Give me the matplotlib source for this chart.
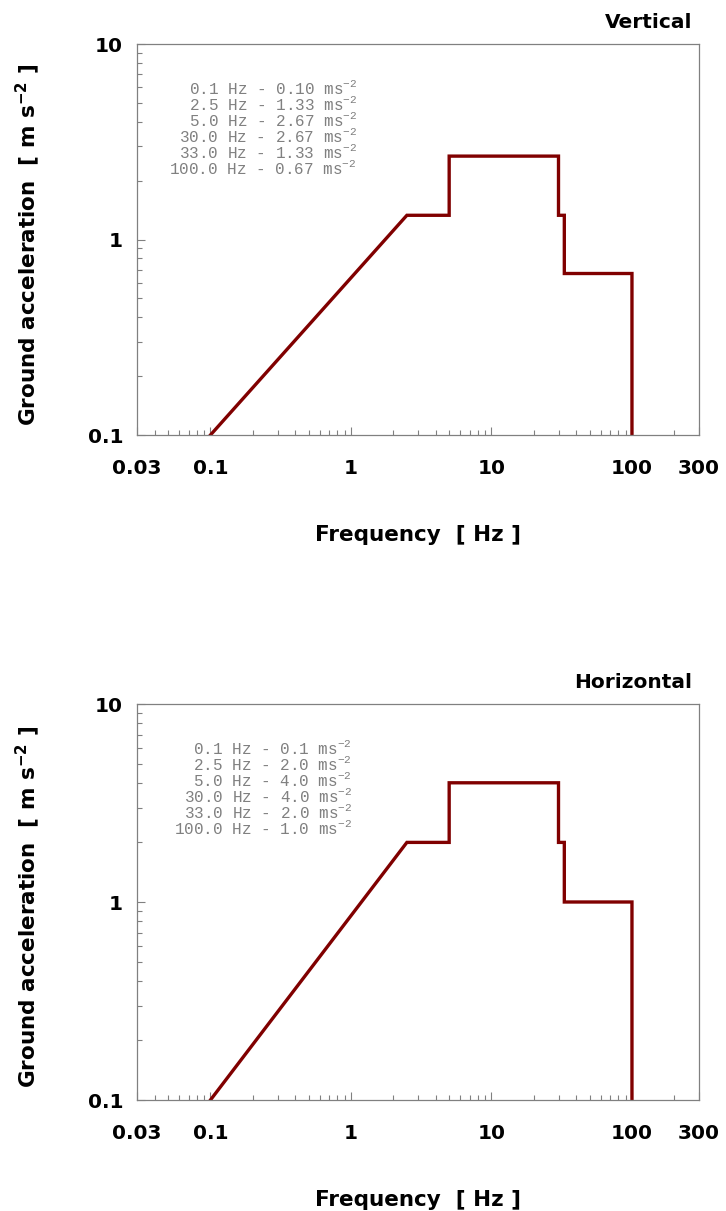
import matplotlib
matplotlib.use("Agg")
import matplotlib.pyplot as plt
from matplotlib.ticker import FixedLocator, FixedFormatter, LogLocator, NullFormatter

plt.rcParams['mathtext.default'] = 'regular'

# Data
vert_freq = [0.1, 2.5, 5.0, 5.0, 30.0, 30.0, 33.0, 33.0, 100.0, 100.0]
vert_acc = [0.1, 1.33, 1.33, 2.67, 2.67, 1.33, 1.33, 0.67, 0.67, 0.1]
horz_freq = [0.1, 2.5, 5.0, 5.0, 30.0, 30.0, 33.0, 33.0, 100.0, 100.0]
horz_acc = [0.1, 2.0, 2.0, 4.0, 4.0, 2.0, 2.0, 1.0, 1.0, 0.1]

vert_notes = ["0.1 Hz - 0.10 ms$^{-2}$", "2.5 Hz - 1.33 ms$^{-2}$", "5.0 Hz - 2.67 ms$^{-2}$",
              "30.0 Hz - 2.67 ms$^{-2}$", "33.0 Hz - 1.33 ms$^{-2}$", "100.0 Hz - 0.67 ms$^{-2}$"]
horz_notes = ["0.1 Hz - 0.1 ms$^{-2}$", "2.5 Hz - 2.0 ms$^{-2}$", "5.0 Hz - 4.0 ms$^{-2}$",
              "30.0 Hz - 4.0 ms$^{-2}$", "33.0 Hz - 2.0 ms$^{-2}$", "100.0 Hz - 1.0 ms$^{-2}$"]

xticks = [0.03, 0.1, 1, 10, 100, 300]
xticklabels = ["0.03", "0.1", "1", "10", "100", "300"]
yticks = [0.1, 1, 10]
yticklabels = ["0.1", "1", "10"]

W, H = 726, 1211
fig = plt.figure(figsize=(W / 100, H / 100), dpi=100)

panels = [
    ("Vertical", vert_freq, vert_acc, vert_notes, 44, 435, 357),
    ("Horizontal", horz_freq, horz_acc, horz_notes, 704, 1100, 352),
]

sans = "DejaVu Sans"
for title, fx, fy, notes, top, bottom, note_right in panels:
    left, right = 137, 699
    ax = fig.add_axes([left / W, 1 - bottom / H, (right - left) / W, (bottom - top) / H])
    ax.plot(fx, fy, color="#800000", lw=2.4, solid_joinstyle="miter")
    ax.set_xscale("log")
    ax.set_yscale("log")
    ax.set_xlim(0.03, 300)
    ax.set_ylim(0.1, 10)
    for s in ax.spines.values():
        s.set_color("#808080")
        s.set_linewidth(0.9)
    ax.xaxis.set_major_locator(FixedLocator(xticks))
    ax.xaxis.set_major_formatter(FixedFormatter(xticklabels))
    ax.yaxis.set_major_locator(FixedLocator(yticks))
    ax.yaxis.set_major_formatter(FixedFormatter(yticklabels))
    ax.xaxis.set_minor_locator(LogLocator(base=10, subs=range(2, 10), numticks=20))
    ax.yaxis.set_minor_locator(LogLocator(base=10, subs=range(2, 10), numticks=20))
    ax.xaxis.set_minor_formatter(NullFormatter())
    ax.yaxis.set_minor_formatter(NullFormatter())
    ax.tick_params(which="both", direction="in", color="#808080", width=0.8, top=False, right=False)
    ax.tick_params(which="major", length=6)
    ax.tick_params(which="minor", length=3.5)
    ax.tick_params(axis="x", which="major", pad=17, labelsize=14.5)
    ax.tick_params(axis="y", which="major", pad=10, labelsize=14.5)
    for lab in ax.get_xticklabels() + ax.get_yticklabels():
        lab.set_fontfamily(sans)
        lab.set_fontweight("bold")
    cx = (left + right) / 2
    fig.text(cx / W, 1 - (bottom + 100) / H, "Frequency  [ Hz ]", ha="center", va="center",
             fontfamily=sans, fontsize=15.5, fontweight="bold")
    fig.text(28 / W, 1 - ((top + bottom) / 2 + 5) / H, "Ground acceleration  [ m s$^{-2}$ ]",
             ha="center", va="center", rotation=90, fontfamily=sans, fontsize=15.5,
             fontweight="bold")
    fig.text(692 / W, 1 - (top - 22) / H, title, ha="right", va="center",
             fontfamily=sans, fontsize=14.5, fontweight="bold")
    for i, t in enumerate(notes):
        y = top + 44 + i * 15.9
        fig.text(note_right / W, 1 - y / H, t, ha="right", va="center",
                 fontfamily="Liberation Mono", fontsize=11.5, color="#808080")

fig.savefig("out.png", dpi=100)
